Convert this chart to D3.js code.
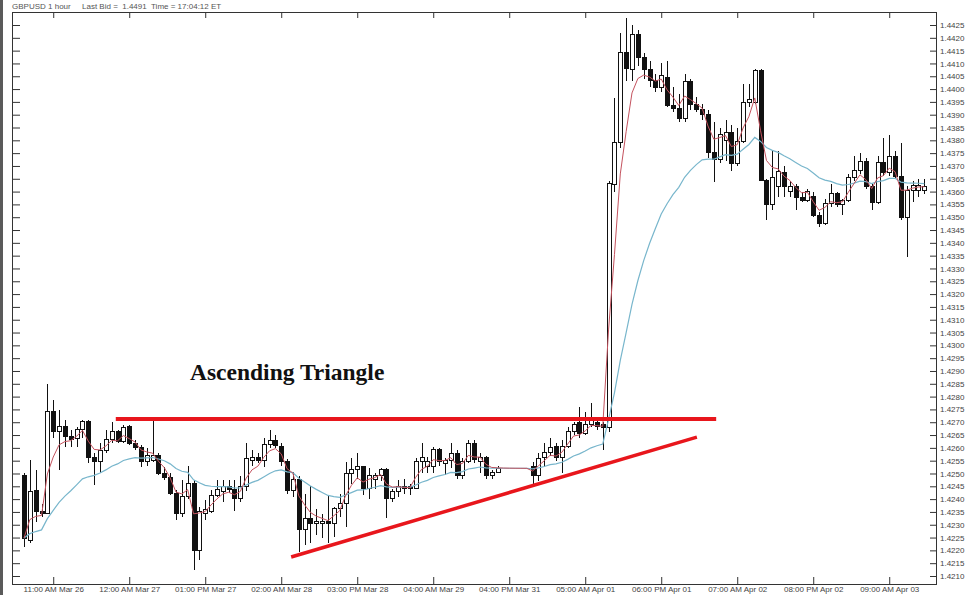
<!DOCTYPE html>
<html>
<head>
<meta charset="utf-8">
<script src="https://cdn.jsdelivr.net/npm/d3@7"></script>
<style>
  body { margin: 0; background: #fff; }
  svg { display: block; }
  .tick text { font-family: "Liberation Sans", Arial, sans-serif; fill: #444; }
</style>
</head>
<body>
<script>
// hourly GBPUSD candles (index 0 = 06:00 AM Mar 26)
const opens = [
  1.42494, 1.42240, 1.42432, 1.42351, 1.42345, 1.42741, 1.42663, 1.42683, 1.42644, 1.42637,
  1.42670, 1.42702, 1.42563, 1.42546, 1.42588, 1.42631, 1.42663, 1.42624, 1.42683, 1.42618,
  1.42603, 1.42546, 1.42550, 1.42572, 1.42501, 1.42485, 1.42423, 1.42345, 1.42409, 1.42462,
  1.42201, 1.42345, 1.42351, 1.42416, 1.42430, 1.42450, 1.42436, 1.42403, 1.42449, 1.42550,
  1.42563, 1.42550, 1.42614, 1.42627, 1.42605, 1.42546, 1.42432, 1.42475, 1.42280, 1.42325,
  1.42303, 1.42303, 1.42312, 1.42303, 1.42364, 1.42384, 1.42500, 1.42514, 1.42527, 1.42442,
  1.42475, 1.42494, 1.42514, 1.42403, 1.42429, 1.42451, 1.42451, 1.42442, 1.42546, 1.42527,
  1.42527, 1.42592, 1.42540, 1.42550, 1.42579, 1.42494, 1.42546, 1.42618, 1.42546, 1.42563,
  1.42494, 1.42505, 1.42520, 1.42520, 1.42520, 1.42520, 1.42520, 1.42527, 1.42494, 1.42564,
  1.42580, 1.42605, 1.42563, 1.42605, 1.42663, 1.42698, 1.42657, 1.42690, 1.42698, 1.42690,
  1.42681, 1.43626, 1.43790, 1.44141, 1.44078, 1.44211, 1.44125, 1.44075, 1.44035, 1.44008,
  1.44047, 1.43934, 1.43926, 1.43887, 1.44028, 1.43938, 1.43920, 1.43899, 1.43751, 1.43727,
  1.43800, 1.43829, 1.43711, 1.43794, 1.43946, 1.43946, 1.44074, 1.43645, 1.43548, 1.43620,
  1.43676, 1.43600, 1.43618, 1.43575, 1.43565, 1.43580, 1.43505, 1.43477, 1.43555, 1.43594,
  1.43551, 1.43565, 1.43653, 1.43684, 1.43716, 1.43618, 1.43559, 1.43715, 1.43676, 1.43735,
  1.43657, 1.43497, 1.43606, 1.43606, 1.43606
];
const highs = [
  1.42500, 1.42553, 1.42514, 1.42380, 1.42850, 1.42787, 1.42748, 1.42709, 1.42670, 1.42683,
  1.42709, 1.42709, 1.42580, 1.42618, 1.42670, 1.42702, 1.42670, 1.42690, 1.42690, 1.42630,
  1.42610, 1.42600, 1.42709, 1.42580, 1.42526, 1.42500, 1.42436, 1.42475, 1.42530, 1.42475,
  1.42370, 1.42397, 1.42436, 1.42475, 1.42475, 1.42475, 1.42475, 1.42490, 1.42620, 1.42590,
  1.42580, 1.42640, 1.42670, 1.42650, 1.42620, 1.42555, 1.42505, 1.42490, 1.42420, 1.42450,
  1.42360, 1.42340, 1.42416, 1.42370, 1.42420, 1.42546, 1.42560, 1.42579, 1.42530, 1.42520,
  1.42500, 1.42520, 1.42520, 1.42440, 1.42475, 1.42480, 1.42460, 1.42560, 1.42618, 1.42563,
  1.42605, 1.42600, 1.42560, 1.42618, 1.42590, 1.42560, 1.42630, 1.42630, 1.42580, 1.42570,
  1.42515, 1.42530, 1.42520, 1.42520, 1.42520, 1.42520, 1.42520, 1.42546, 1.42580, 1.42618,
  1.42640, 1.42618, 1.42630, 1.42683, 1.42700, 1.42760, 1.42740, 1.42774, 1.42710, 1.42700,
  1.43640, 1.43965, 1.44219, 1.44278, 1.44250, 1.44230, 1.44140, 1.44110, 1.44060, 1.44100,
  1.44110, 1.44010, 1.43980, 1.44060, 1.44040, 1.43970, 1.43940, 1.43920, 1.43870, 1.43850,
  1.43880, 1.43860, 1.43850, 1.44020, 1.44020, 1.44080, 1.44080, 1.43650, 1.43762, 1.43760,
  1.43700, 1.43640, 1.43630, 1.43600, 1.43610, 1.43600, 1.43520, 1.43570, 1.43630, 1.43600,
  1.43570, 1.43670, 1.43740, 1.43750, 1.43730, 1.43630, 1.43740, 1.43810, 1.43820, 1.43760,
  1.43790, 1.43620, 1.43640, 1.43650, 1.43650
];
const lows = [
  1.42214, 1.42230, 1.42312, 1.42330, 1.42340, 1.42640, 1.42514, 1.42605, 1.42605, 1.42605,
  1.42640, 1.42540, 1.42455, 1.42501, 1.42580, 1.42620, 1.42618, 1.42618, 1.42610, 1.42592,
  1.42526, 1.42530, 1.42545, 1.42495, 1.42475, 1.42415, 1.42319, 1.42330, 1.42400, 1.42123,
  1.42162, 1.42320, 1.42345, 1.42409, 1.42390, 1.42423, 1.42355, 1.42390, 1.42430, 1.42530,
  1.42540, 1.42526, 1.42600, 1.42600, 1.42530, 1.42420, 1.42410, 1.42195, 1.42220, 1.42230,
  1.42260, 1.42250, 1.42228, 1.42253, 1.42330, 1.42292, 1.42460, 1.42480, 1.42416, 1.42400,
  1.42440, 1.42470, 1.42325, 1.42390, 1.42410, 1.42420, 1.42416, 1.42440, 1.42500, 1.42500,
  1.42500, 1.42530, 1.42494, 1.42520, 1.42480, 1.42480, 1.42540, 1.42540, 1.42500, 1.42480,
  1.42480, 1.42500, 1.42520, 1.42520, 1.42520, 1.42520, 1.42520, 1.42460, 1.42470, 1.42527,
  1.42570, 1.42550, 1.42500, 1.42600, 1.42650, 1.42640, 1.42650, 1.42680, 1.42670, 1.42592,
  1.42660, 1.43600, 1.43770, 1.44030, 1.44030, 1.44090, 1.44040, 1.44010, 1.43990, 1.43990,
  1.43930, 1.43910, 1.43870, 1.43870, 1.43920, 1.43910, 1.43880, 1.43730, 1.43637, 1.43710,
  1.43720, 1.43680, 1.43700, 1.43790, 1.43930, 1.43940, 1.43640, 1.43489, 1.43530, 1.43580,
  1.43580, 1.43580, 1.43530, 1.43560, 1.43560, 1.43500, 1.43460, 1.43470, 1.43540, 1.43540,
  1.43510, 1.43560, 1.43640, 1.43670, 1.43610, 1.43530, 1.43550, 1.43660, 1.43660, 1.43650,
  1.43490, 1.43345, 1.43560, 1.43580, 1.43590
];
const closes = [
  1.42248, 1.42429, 1.42351, 1.42342, 1.42741, 1.42663, 1.42683, 1.42644, 1.42633, 1.42672,
  1.42702, 1.42563, 1.42546, 1.42588, 1.42631, 1.42663, 1.42624, 1.42679, 1.42618, 1.42603,
  1.42546, 1.42572, 1.42572, 1.42501, 1.42485, 1.42423, 1.42345, 1.42409, 1.42462, 1.42201,
  1.42351, 1.42360, 1.42416, 1.42436, 1.42450, 1.42436, 1.42403, 1.42449, 1.42559, 1.42563,
  1.42550, 1.42614, 1.42627, 1.42610, 1.42546, 1.42432, 1.42475, 1.42280, 1.42325, 1.42303,
  1.42312, 1.42312, 1.42303, 1.42364, 1.42384, 1.42501, 1.42514, 1.42527, 1.42442, 1.42494,
  1.42494, 1.42514, 1.42403, 1.42429, 1.42451, 1.42442, 1.42442, 1.42546, 1.42563, 1.42546,
  1.42592, 1.42546, 1.42550, 1.42579, 1.42494, 1.42546, 1.42618, 1.42555, 1.42563, 1.42494,
  1.42505, 1.42520, 1.42520, 1.42520, 1.42520, 1.42520, 1.42520, 1.42494, 1.42560, 1.42580,
  1.42603, 1.42563, 1.42605, 1.42663, 1.42693, 1.42657, 1.42690, 1.42720, 1.42685, 1.42680,
  1.43633, 1.43790, 1.44141, 1.44082, 1.44211, 1.44125, 1.44075, 1.44035, 1.44008, 1.44051,
  1.43934, 1.43926, 1.43887, 1.44028, 1.43938, 1.43920, 1.43899, 1.43751, 1.43727, 1.43821,
  1.43830, 1.43711, 1.43794, 1.43946, 1.43960, 1.44074, 1.43645, 1.43548, 1.43653, 1.43680,
  1.43618, 1.43618, 1.43575, 1.43565, 1.43600, 1.43505, 1.43477, 1.43555, 1.43594, 1.43551,
  1.43565, 1.43653, 1.43684, 1.43716, 1.43618, 1.43559, 1.43715, 1.43676, 1.43735, 1.43657,
  1.43497, 1.43606, 1.43625, 1.43625, 1.43620
];

// x axis: candle index of each labelled hour
const xTickIdx = [5, 18, 31, 44, 57, 70, 83, 96, 109, 122, 135, 148];
const xTickLabels = [
  "11:00 AM Mar 26", "12:00 AM Mar 27", "01:00 PM Mar 27", "02:00 AM Mar 28",
  "03:00 PM Mar 28", "04:00 AM Mar 29", "04:00 PM Mar 31", "05:00 AM Apr 01",
  "06:00 PM Apr 01", "07:00 AM Apr 02", "08:00 PM Apr 02", "09:00 AM Apr 03"
];
// price axis runs 1.4210 .. 1.4425 every 5 pips
const yMin = 1.4210, yMax = 1.4425, yStep = 0.0005;

// the drawn trend lines [candle index, price]
const resistance = [[15.7, 1.42713], [118.4, 1.42713]];
const support = [[45.7, 1.42174], [115.1, 1.42642]];

const title = "Ascending Triangle";
const headerLeft = "GBPUSD 1 hour";
const headerRight = "Last Bid =  1.4491  Time = 17:04:12 ET";

const candles = closes.map((c, i) => ({ i: i, o: opens[i], h: highs[i], l: lows[i], c: c }));

// moving averages the chart overlays (fast red, slow blue)
function ema(vals, n) {
  const k = 2 / (n + 1);
  let prev = vals[0];
  return vals.map(v => (prev = prev + k * (v - prev)));
}
const fastMA = ema(closes, 4);
const slowMA = ema(closes, 20);

const width = 969, height = 595;
const plot = { left: 12, right: 936, top: 12, bottom: 584 };

const svg = d3.select("body").append("svg")
  .attr("width", width)
  .attr("height", height);

const x = d3.scaleLinear().domain([0, closes.length - 1]).range([24, 924.3]);
const y = d3.scaleLinear().domain([yMin, yMax]).range([576, 25]);

const yTicks = d3.range(0, Math.round((yMax - yMin) / yStep) + 1).map(k => +(yMin + k * yStep).toFixed(4));
const xTicks = xTickIdx;

// window edge on the left
svg.append("rect").attr("x", 0).attr("y", 0).attr("width", 3).attr("height", height).attr("fill", "#5a5a5a");

// header text
svg.append("text").attr("x", 12).attr("y", 8.5)
  .style("font", "8px 'Liberation Sans', Arial, sans-serif").attr("fill", "#555")
  .text(headerLeft);
svg.append("text").attr("x", 82).attr("y", 8.5)
  .style("font", "8px 'Liberation Sans', Arial, sans-serif").attr("fill", "#555")
  .attr("xml:space", "preserve")
  .text(headerRight);

// axes
const rightAxis = svg.append("g")
  .attr("transform", `translate(${plot.right},0)`)
  .call(d3.axisRight(y).tickValues(yTicks).tickFormat(d3.format(".4f"))
    .tickSize(-6).tickSizeOuter(0).tickPadding(4));
rightAxis.selectAll("text").style("font-size", "8px");

svg.append("g")
  .attr("transform", `translate(${plot.left},0)`)
  .call(d3.axisLeft(y).tickValues(yTicks).tickFormat("").tickSize(-8).tickSizeOuter(0));

svg.append("g")
  .attr("transform", `translate(0,${plot.top})`)
  .call(d3.axisTop(x).tickValues(xTicks).tickFormat("").tickSize(-6).tickSizeOuter(0));

const bottomAxis = svg.append("g")
  .attr("transform", `translate(0,${plot.bottom})`)
  .call(d3.axisBottom(x).tickValues(xTicks).tickFormat((d, i) => xTickLabels[i])
    .tickSize(-7).tickSizeOuter(0).tickPadding(2));
bottomAxis.selectAll("text").style("font-size", "8px");

svg.selectAll(".domain").remove();
svg.selectAll(".tick line").attr("stroke", "#333");

// frame
svg.append("path")
  .attr("d", `M${plot.left},${plot.bottom}V${plot.top}H${plot.right}V${plot.bottom}Z`)
  .attr("fill", "none").attr("stroke", "#333").attr("stroke-width", 1)
  .attr("shape-rendering", "crispEdges");

// candles
const bodyW = 4.4;
const cg = svg.append("g").attr("shape-rendering", "crispEdges");
const drawn = candles.filter(d => d.h !== d.l);

cg.selectAll("line.wick")
  .data(drawn)
  .enter()
  .append("line")
  .attr("class", "wick")
  .attr("x1", d => Math.round(x(d.i)) + 0.5)
  .attr("x2", d => Math.round(x(d.i)) + 0.5)
  .attr("y1", d => y(d.h))
  .attr("y2", d => y(d.l))
  .attr("stroke", "#111")
  .attr("stroke-width", 1);

cg.selectAll("rect.body")
  .data(drawn)
  .enter()
  .append("rect")
  .attr("class", "body")
  .attr("x", d => Math.round(x(d.i)) + 0.5 - bodyW / 2)
  .attr("y", d => y(Math.max(d.o, d.c)))
  .attr("width", bodyW)
  .attr("height", d => Math.max(1, Math.abs(y(d.o) - y(d.c))))
  .attr("fill", d => d.c < d.o ? "#111" : "#fff")
  .attr("stroke", "#111")
  .attr("stroke-width", 1);

// moving averages
const maLine = d3.line().x((d, i) => x(i)).y(d => y(d));
svg.append("path").datum(slowMA)
  .attr("d", maLine).attr("fill", "none")
  .attr("stroke", "#78b6cc").attr("stroke-width", 1.2);
svg.append("path").datum(fastMA)
  .attr("d", maLine).attr("fill", "none")
  .attr("stroke", "#c4525e").attr("stroke-width", 1);

// trend lines
const trend = d3.line().x(d => x(d[0])).y(d => y(d[1]));
svg.append("path").datum(resistance)
  .attr("d", trend).attr("fill", "none")
  .attr("stroke", "#e8161c").attr("stroke-width", 4);
svg.append("path").datum(support)
  .attr("d", trend).attr("fill", "none")
  .attr("stroke", "#e8161c").attr("stroke-width", 3.5);

// annotation
svg.append("text")
  .attr("x", 190)
  .attr("y", 380)
  .style("font", "bold 23.5px 'Liberation Serif', 'Times New Roman', serif")
  .attr("fill", "#111")
  .text(title);
</script>
</body>
</html>
